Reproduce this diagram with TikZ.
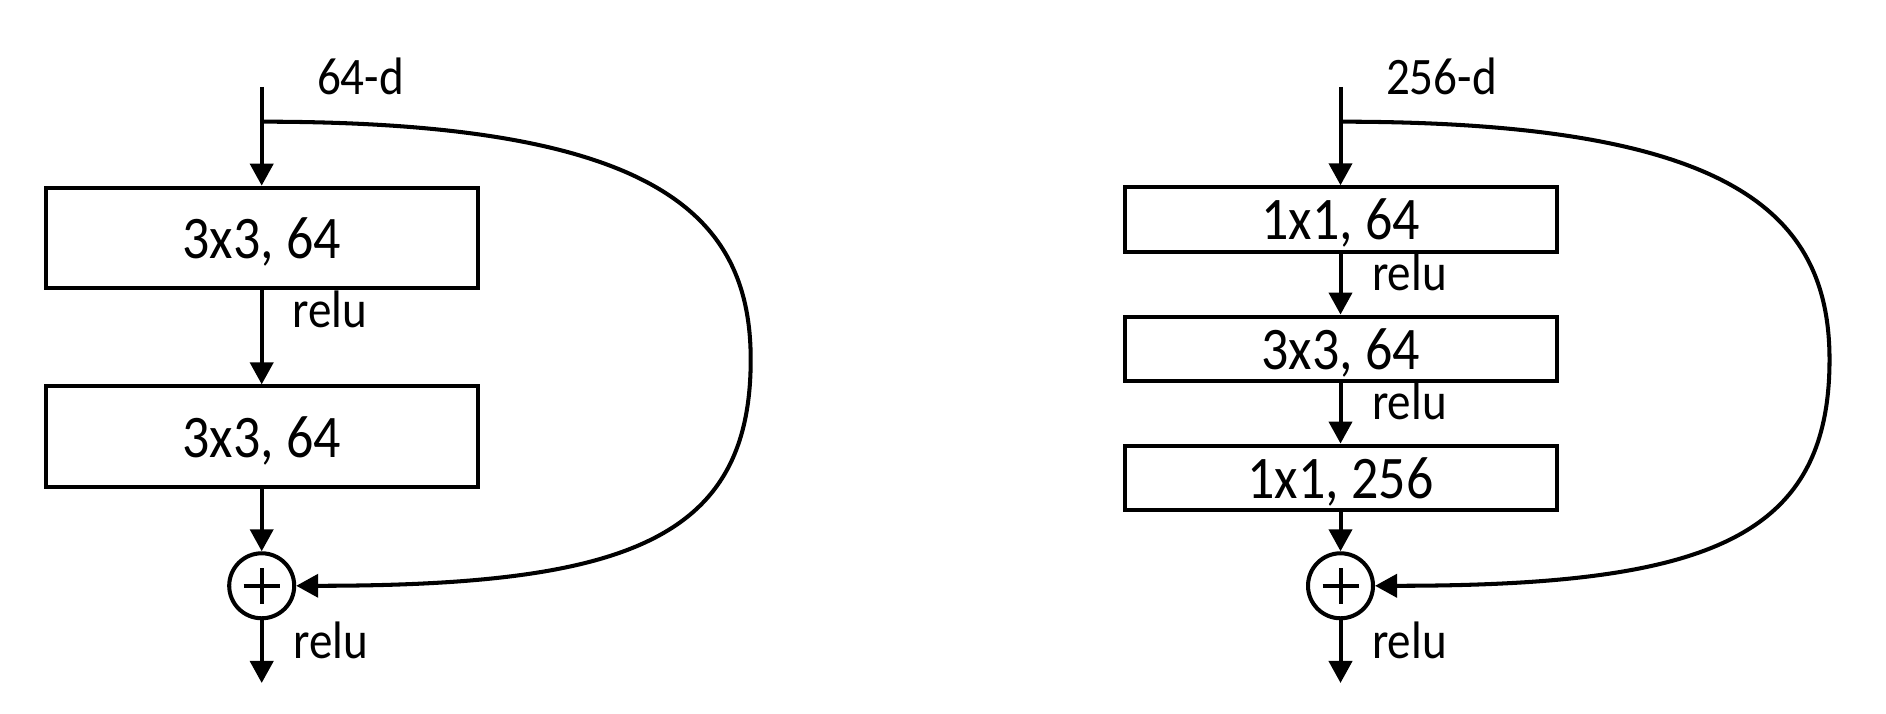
\documentclass[tikz,border=0pt]{standalone}
\usepackage{fontspec}
\setmainfont{Carlito}[FakeStretch=0.893]
\usetikzlibrary{arrows.meta}
\begin{document}
\begin{tikzpicture}[line width=1.15pt,
    layer/.style={draw, rectangle, minimum width=4.32cm, text depth=0pt, font=\fontsize{17.2}{20}\selectfont},
    sum/.style={draw, circle, minimum size=0.65cm, inner sep=0pt, path picture={\draw (path picture bounding box.center) +(-0.18,0) -- +(0.18,0) (path picture bounding box.center) +(0,-0.18) -- +(0,0.18);}},
    lbl/.style={anchor=base west, inner sep=0pt, font=\fontsize{15}{18}\selectfont},
    arr/.style={-{Triangle[width=2.3mm,length=2.2mm]}}]
    \useasboundingbox (0,0) rectangle (18.86,7.14);

    \coordinate (in1) at (2.617,6.27);
    \coordinate (br1) at (2.617,5.923);
    \node[lbl] (d1) at (3.15,6.197) {64-d};

    \node[layer, minimum height=1.006cm] (a1) at (2.617,4.76) {3x3, 64};
    \draw[arr] (in1) -- (a1);

    \node[layer, minimum height=1.006cm] (a2) at (2.617,2.773) {3x3, 64};
    \draw[arr] (a1) -- (a2);
    \node[lbl] (ra1) at (2.907,3.863) {relu};

    \node[sum] (s1) at (2.617,1.282) {};
    \draw[arr] (a2) -- (s1);

    \coordinate (out1) at (2.617,0.31);
    \draw[arr] (s1) -- (out1);
    \node[lbl] (ra2) at (2.917,0.557) {relu};

    \coordinate (far1) at (7.507,3.543);
    \draw[arr] (br1) .. controls +(3.9,0) and +(0,1.48) .. (far1) .. controls +(0,-1.8) and +(3.3,0) .. (s1.east);

    \coordinate (in2) at (13.405,6.27);
    \coordinate (br2) at (13.405,5.923);
    \node[lbl] (d2) at (13.84,6.197) {256-d};

    \node[layer, minimum height=0.644cm] (b1) at (13.405,4.945) {1x1, 64};
    \draw[arr] (in2) -- (b1);

    \node[layer, minimum height=0.644cm] (b2) at (13.405,3.652) {3x3, 64};
    \draw[arr] (b1) -- (b2);
    \node[lbl] (rb1) at (13.70,4.233) {relu};

    \node[layer, minimum height=0.644cm] (b3) at (13.405,2.362) {1x1, 256};
    \draw[arr] (b2) -- (b3);
    \node[lbl] (rb2) at (13.70,2.94) {relu};

    \node[sum] (s2) at (13.405,1.282) {};
    \draw[arr] (b3) -- (s2);

    \coordinate (out2) at (13.405,0.31);
    \draw[arr] (s2) -- (out2);
    \node[lbl] (rb3) at (13.70,0.557) {relu};

    \coordinate (far2) at (18.295,3.543);
    \draw[arr] (br2) .. controls +(3.9,0) and +(0,1.48) .. (far2) .. controls +(0,-1.8) and +(3.3,0) .. (s2.east);
  \end{tikzpicture}
\end{document}
